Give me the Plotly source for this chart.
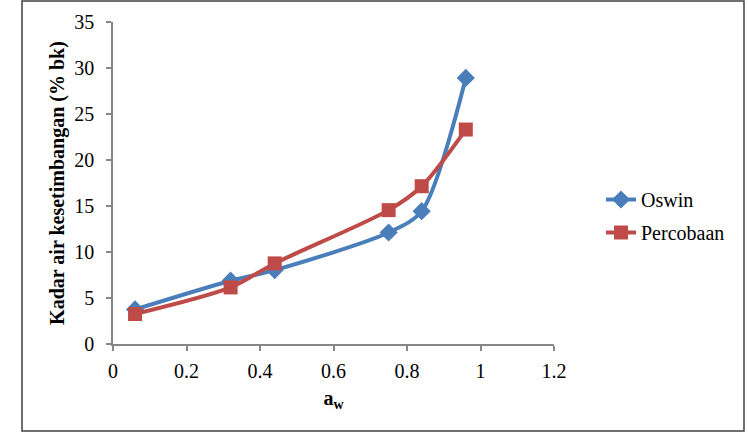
import plotly.graph_objects as go

aw = [0.06, 0.32, 0.44, 0.75, 0.84, 0.96]
oswin = [3.76, 6.88, 8.03, 12.12, 14.44, 28.92]
percobaan = [3.26, 6.15, 8.76, 14.55, 17.15, 23.31]

x_ticks = [0, 0.2, 0.4, 0.6, 0.8, 1, 1.2]
x_ticktext = ["0", "0.2", "0.4", "0.6", "0.8", "1", "1.2"]
y_ticks = [0, 5, 10, 15, 20, 25, 30, 35]

BLUE = "#4A7EBB"
RED = "#BE4B48"
FONT = "'Times New Roman', 'Liberation Serif', serif"

fig = go.Figure()
fig.add_trace(go.Scatter(
    x=aw, y=oswin, name="Oswin", mode="lines+markers",
    line=dict(color=BLUE, width=4, shape="spline", smoothing=0.8),
    marker=dict(symbol="diamond", size=14, color=BLUE),
    legendgroup="a",
))
fig.add_trace(go.Scatter(
    x=aw, y=percobaan, name="Percobaan", mode="lines+markers",
    line=dict(color=RED, width=4, shape="spline", smoothing=0.8),
    marker=dict(symbol="square", size=14, color=RED),
    legendgroup="b",
))

L, R, T, B = 113, 194, 22, 94
W, H = 748, 438
pw, ph = W - L - R, H - T - B

def px(xp):
    return (xp - L) / pw

def py(yp):
    return (H - B - yp) / ph

fig.update_layout(
    width=W, height=H,
    margin=dict(l=L, r=R, t=T, b=B),
    paper_bgcolor="white", plot_bgcolor="white",
    font=dict(family=FONT, size=20, color="black"),
    showlegend=True,
    legend=dict(
        x=px(601), y=py(180), xanchor="left", yanchor="top",
        font=dict(family=FONT, size=20, color="black"),
        tracegroupgap=4, bgcolor="rgba(0,0,0,0)",
    ),
    xaxis=dict(
        range=[0, 1.2], tickvals=x_ticks, ticktext=x_ticktext,
        showgrid=False, zeroline=False,
        showline=True, linecolor="#868686", linewidth=1.5,
        ticks="outside", ticklen=5, tickcolor="#868686", tickwidth=1.5,
        ticklabelstandoff=3,
        tickfont=dict(family=FONT, size=20),
        title=dict(text="<b>a<sub>w</sub></b>", font=dict(family=FONT, size=20), standoff=10),
    ),
    yaxis=dict(
        range=[0, 35], tickvals=y_ticks,
        showgrid=False, zeroline=False,
        showline=True, linecolor="#868686", linewidth=1.5,
        ticks="outside", ticklen=5, tickcolor="#868686", tickwidth=1.5,
        ticklabelstandoff=8,
        tickfont=dict(family=FONT, size=20),
        title=dict(text="<b>Kadar air kesetimbangan (% bk)</b>", font=dict(family=FONT, size=20), standoff=4),
    ),
    shapes=[dict(
        type="rect", xref="paper", yref="paper",
        x0=px(22), x1=px(744), y0=py(431), y1=py(1),
        line=dict(color="#404040", width=1.5), fillcolor="rgba(0,0,0,0)", layer="below",
    )],
)

fig.write_html("out.html")
